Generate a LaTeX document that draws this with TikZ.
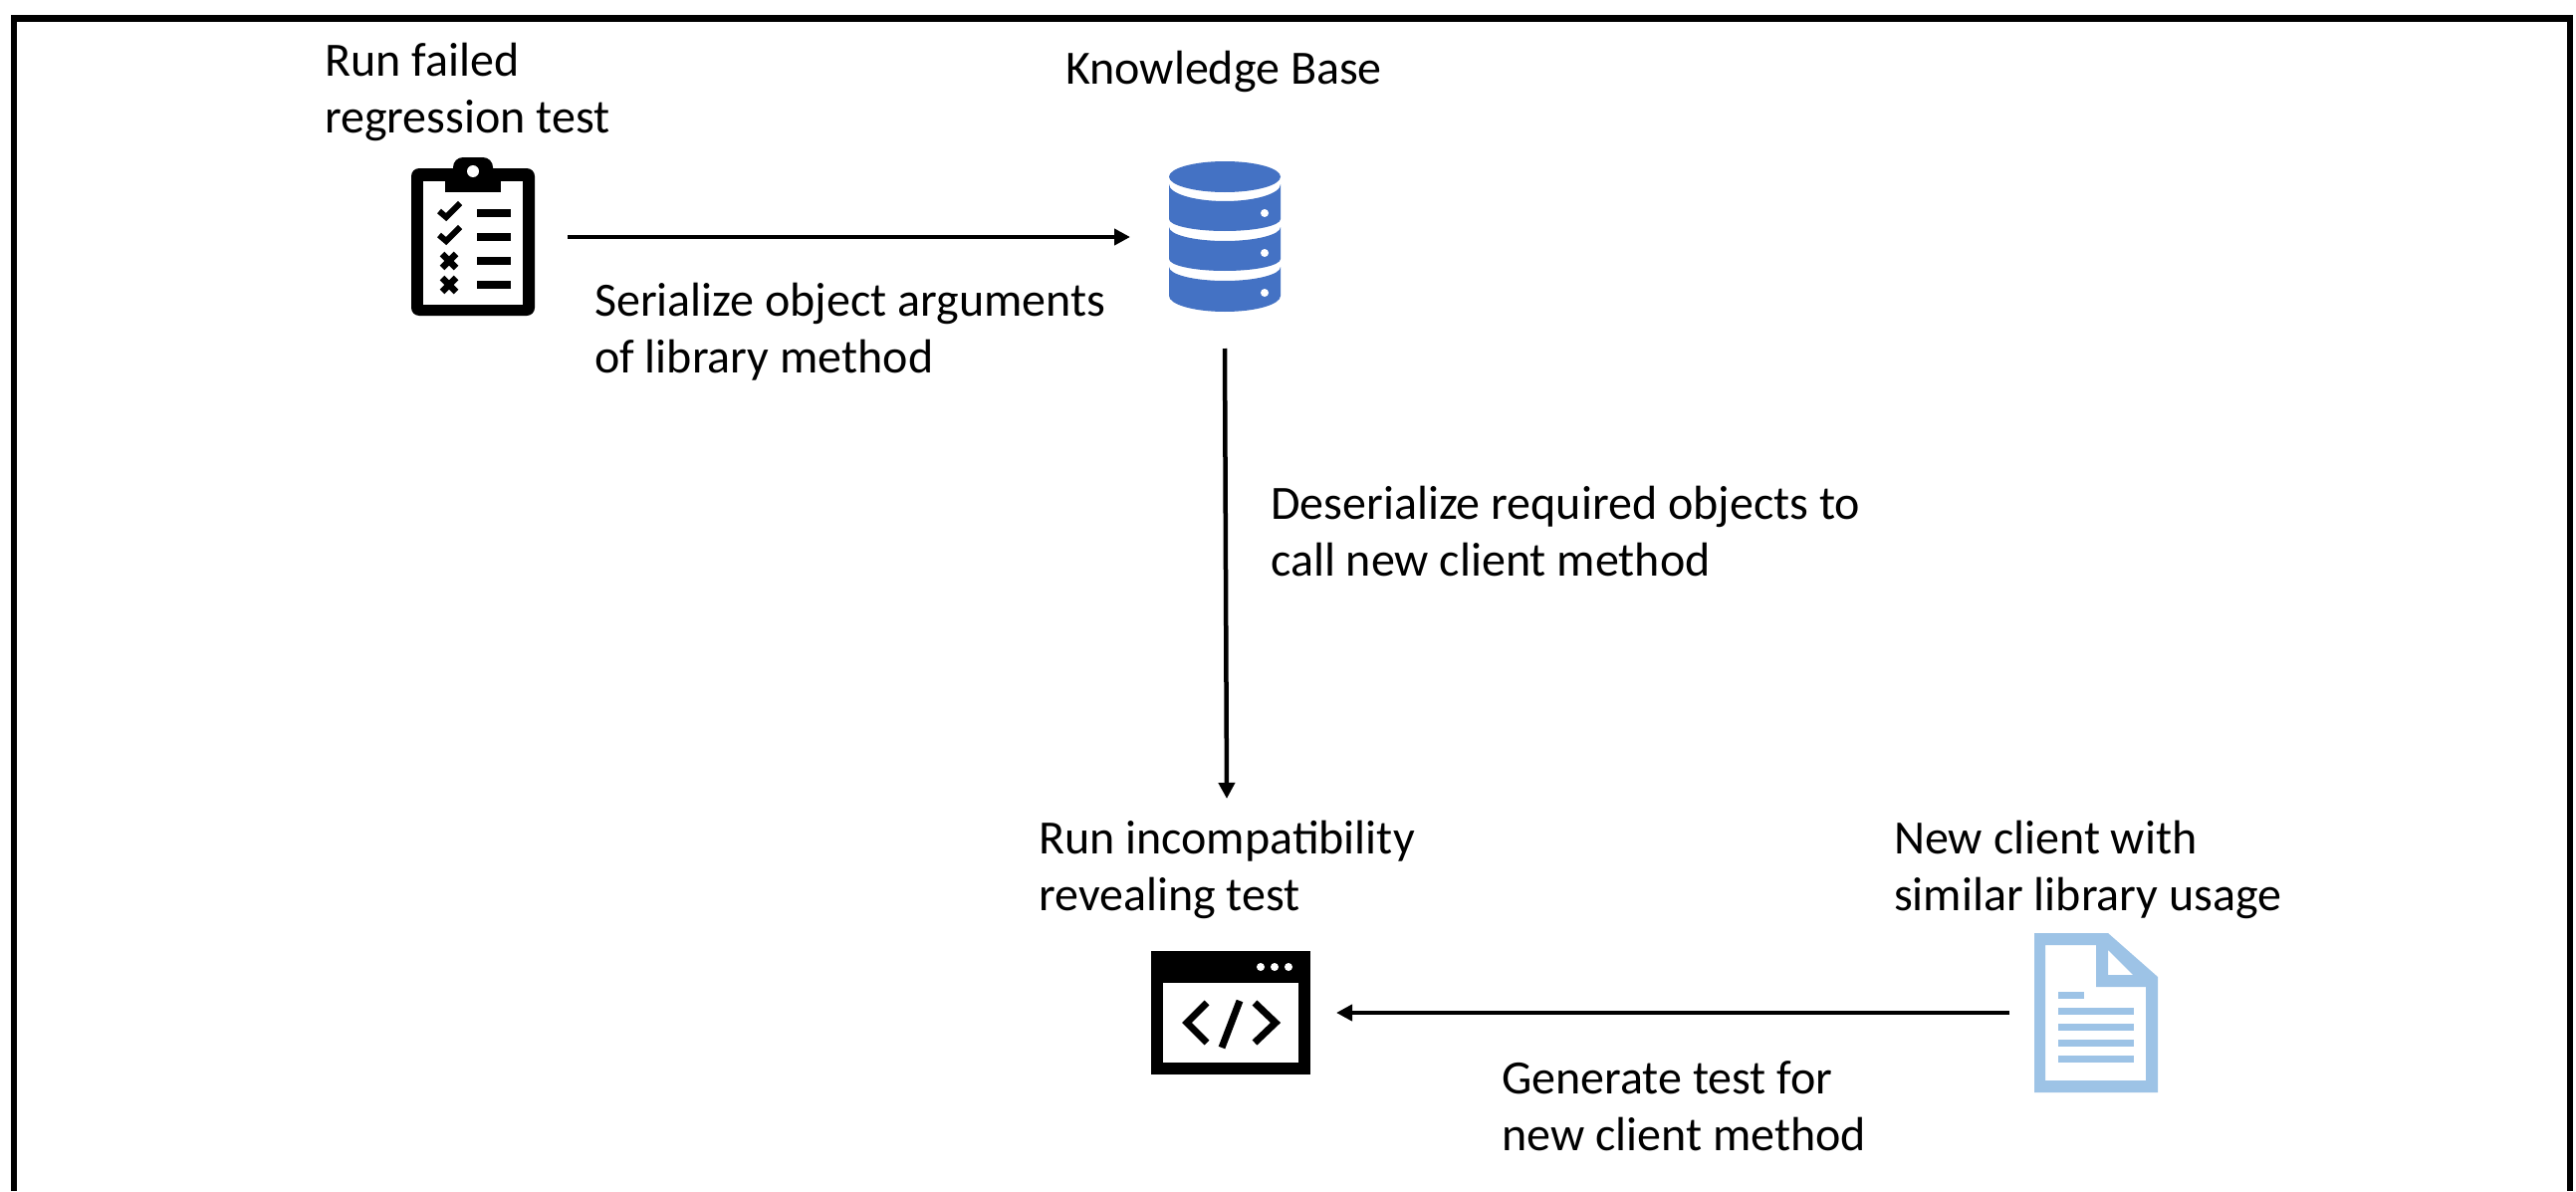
\documentclass[tikz,border=0pt]{standalone}
\usepackage{fontspec}
\setmainfont{Carlito}
\usetikzlibrary{arrows.meta}
\definecolor{dbblue}{HTML}{4472C4}
\definecolor{docblue}{HTML}{9DC3E6}
\tikzset{
 lbl/.style={anchor=base west,inner sep=0pt,font=\fontsize{48}{56.5}\selectfont,align=left},
 conn/.style={line width=4.5pt,-{Triangle[length=16pt,width=16pt]}},
 anchorbox/.style={inner sep=0pt,outer sep=0pt},
}
% one cylinder band: top edge sagging by #2 from y=#1, bottom edge sagging by #4 from y=#3
\newcommand{\dbband}[4]{%
 \fill[dbblue] (1174,#1) .. controls (1174,#1+0.55*#2) and (1199,#1+#2) .. (1230,#1+#2)
  .. controls (1261,#1+#2) and (1286,#1+0.55*#2) .. (1286,#1)
  -- (1286,#3) .. controls (1286,#3+0.55*#4) and (1261,#3+#4) .. (1230,#3+#4)
  .. controls (1199,#3+#4) and (1174,#3+0.55*#4) .. (1174,#3) -- cycle;}
\begin{document}
\begin{tikzpicture}[x=1pt,y=-1pt]
\useasboundingbox (0,0) rectangle (2587,1196);
\fill[white] (0,0) rectangle (2587,1196);
\draw[line width=6.5pt] (14,1196) -- (14,18.5) -- (2581,18.5) -- (2581,1196);
% clipboard
\fill[rounded corners=8pt] (413,169) rectangle (537,317);
\fill[white] (425,182) rectangle (525,306);
\fill[rounded corners=10pt] (455,158) rectangle (495,185);
\fill (447,170) rectangle (503,193);
\fill[white] (475,172) circle (6pt);
\foreach \y in {214,238}{
 \draw[line width=6pt] (441,\y-2) -- (448,\y+4) -- (462,\y-10);
}
\foreach \y in {262,286}{
 \draw[line width=6.5pt] (444,\y-7) -- (458,\y+7) (458,\y-7) -- (444,\y+7);
}
\foreach \y in {214,238,262,286}{
 \fill (479,\y-4) rectangle (513,\y+4);
}
% database
\fill[dbblue] (1230,177.5) ellipse (56pt and 15.5pt);
\dbband{185}{17}{220}{12}
\dbband{228}{14}{260}{12}
\dbband{268}{14}{297}{16}
\fill[white] (1270,214) circle (4pt) (1270,254) circle (4pt) (1270,294) circle (4pt);
% code window
\fill (1156,955) rectangle (1316,1079);
\fill[white] (1168,987) rectangle (1304,1067);
\fill[white] (1266,971) circle (4pt) (1280,971) circle (4pt) (1294,971) circle (4pt);
\draw[line width=7pt] (1212,1007) -- (1192,1027) -- (1212,1047);
\draw[line width=7pt] (1260,1007) -- (1281,1027) -- (1260,1047);
\draw[line width=7pt] (1245,1005) -- (1227,1052);
% document
\fill[docblue,even odd rule] (2043,937) -- (2117,937) -- (2167,981) -- (2167,1097) -- (2043,1097) -- cycle
 (2054,949) -- (2054,1085) -- (2155,1085) -- (2155,991) -- (2105,991) -- (2105,949) -- cycle
 (2117,954) -- (2117,979) -- (2142,979) -- cycle;
\fill[docblue] (2067,996) rectangle (2093,1003);
\foreach \y in {1012,1028,1044,1060}{\fill[docblue] (2067,\y) rectangle (2143,\y+7);}
% anchor boxes round the icons, at the ends of the connectors
\node[anchorbox,minimum width=158pt,minimum height=160pt] (clip) at (491,238) {};
\node[anchorbox,minimum width=190pt,minimum height=220pt] (db) at (1230,240) {};
\node[anchorbox,minimum width=212pt,minimum height=124pt] (win) at (1236,1017) {};
\node[anchorbox,minimum width=10pt,minimum height=160pt] (doc) at (2023,1017) {};
\coordinate (winTop) at (1232,802);
\draw[conn] (clip.east) -- (db.west |- clip.east);
\draw[conn] (db.south) -- (winTop);
\draw[conn] (doc.west) -- (win.east);
% labels
\node[lbl] (t1) at (326,133) {Run failed\\regression test};
\node[lbl] (t2) at (1070,85) {Knowledge Base};
\node[lbl] (t3) at (597,374) {Serialize object arguments\\of library method};
\node[lbl] (t4) at (1276,578) {Deserialize required objects to\\call new client method};
\node[lbl] (t5) at (1043,914) {Run incompatibility\\revealing test};
\node[lbl] (t6) at (1902,914) {New client with\\similar library usage};
\node[lbl] (t7) at (1508,1155) {Generate test for\\new client method};
\end{tikzpicture}
\end{document}
